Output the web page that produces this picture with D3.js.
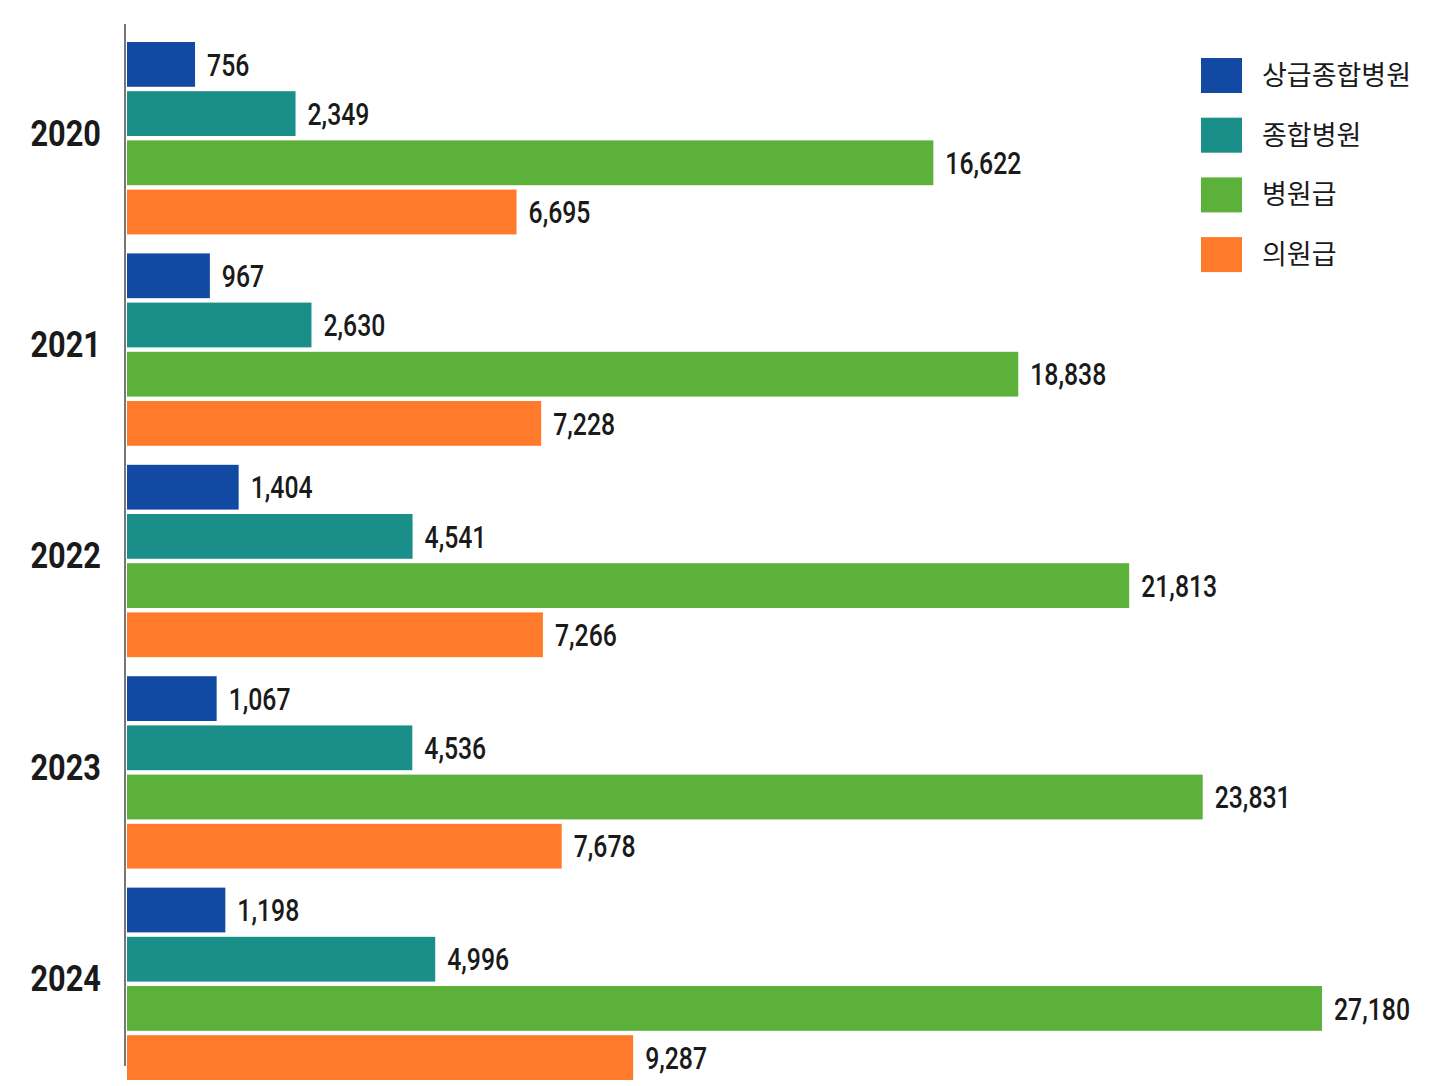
<!DOCTYPE html>
<html>
<head>
<meta charset="utf-8">
<script src="https://cdn.jsdelivr.net/npm/d3@7"></script>
<style>
  body { margin: 0; background: #fff; }
  .num { font-family: Roboto, "Noto Sans", sans-serif; fill: #1a1a1a; }
  .leg { font-family: "Noto Sans CJK KR", "Noto Sans", sans-serif; fill: #1a1a1a; }
</style>
</head>
<body>
<div id="chart"></div>
<script>
const years = ["2020", "2021", "2022", "2023", "2024"];
const series = ["상급종합병원", "종합병원", "병원급", "의원급"];
const colors = ["#1249a3", "#1a8f89", "#5bb13a", "#ff7a2a"];

// one array per series, in year order
const tertiary = [756, 967, 1404, 1067, 1198];
const general = [2349, 2630, 4541, 4536, 4996];
const hospital = [16622, 18838, 21813, 23831, 27180];
const clinic = [6695, 7228, 7266, 7678, 9287];
const values = [tertiary, general, hospital, clinic];

const width = 1448;
const height = 1086;
const x0 = 127;

const svg = d3.select("#chart")
  .append("svg")
  .attr("width", width)
  .attr("height", height);

// bar lengths in the original are not linear, a power scale follows them closer
const x = d3.scalePow()
  .exponent(0.8)
  .domain([0, 27180])
  .range([x0, x0 + 1195]);

const y0 = d3.scaleBand()
  .domain(years)
  .range([42, 1080])
  .paddingInner(0.09);

const y1 = d3.scaleBand()
  .domain(series)
  .range([0, y0.bandwidth()])
  .paddingInner(0.09);

const fmt = d3.format(",");

const groups = svg.selectAll("g.year")
  .data(years)
  .enter()
  .append("g")
  .attr("class", "year")
  .attr("transform", d => `translate(0,${y0(d)})`);

groups.each(function(yr, i) {
  const g = d3.select(this);
  const rows = series.map((s, k) => ({ s, k, v: values[k][i] }));

  g.selectAll("rect")
    .data(rows)
    .enter()
    .append("rect")
    .attr("x", x0)
    .attr("y", d => y1(d.s))
    .attr("width", d => x(d.v) - x0)
    .attr("height", y1.bandwidth())
    .attr("fill", d => colors[d.k]);

  // narrow looking numbers: squeeze Roboto horizontally
  g.selectAll("text.val")
    .data(rows)
    .enter()
    .append("text")
    .attr("class", "num val")
    .attr("transform", d => `translate(${x(d.v) + 12},${y1(d.s) + y1.bandwidth() / 2}) scale(0.8,1)`)
    .attr("dy", "0.36em")
    .style("font-size", "31px")
    .style("font-weight", 500)
    .text(d => fmt(d.v));
});

// Y axis with year labels
const yAxis = svg.append("g")
  .attr("transform", `translate(125,0)`)
  .call(d3.axisLeft(y0).tickSize(0).tickPadding(29));
yAxis.select(".domain")
  .attr("d", "M0,24V1066")
  .attr("stroke", "#777")
  .attr("stroke-width", 2);
yAxis.selectAll(".tick text")
  .attr("class", "num")
  .attr("transform", "translate(0,-6) scale(0.83,1)")
  .attr("dy", "0.36em")
  .style("font-size", "37px")
  .style("font-weight", "bold");

// Legend
const legend = svg.append("g")
  .attr("transform", "translate(1201,58)");
const li = legend.selectAll("g")
  .data(series)
  .enter()
  .append("g")
  .attr("transform", (d, i) => `translate(0,${i * 59.7})`);
li.append("rect")
  .attr("width", 41)
  .attr("height", 35)
  .attr("fill", (d, i) => colors[i]);
li.append("text")
  .attr("class", "leg")
  .attr("x", 61)
  .attr("y", 17.5)
  .attr("dy", "0.35em")
  .style("font-size", "27px")
  .text(d => d);
</script>
</body>
</html>
